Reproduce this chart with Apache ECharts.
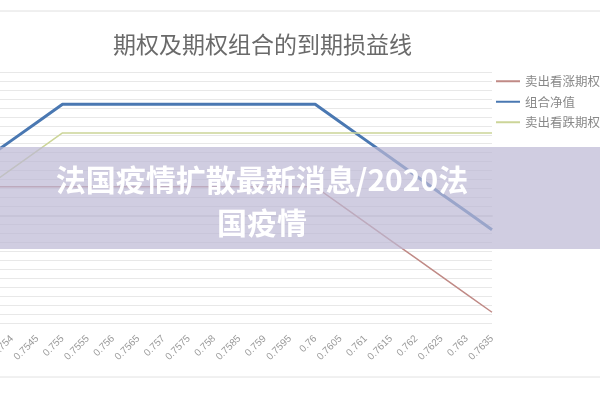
<!DOCTYPE html>
<html>
<head>
<meta charset="utf-8">
<script src="https://cdn.jsdelivr.net/npm/echarts@6/dist/echarts.min.js"></script>
<style>html,body{margin:0;padding:0;background:#fff;}#c{width:600px;height:400px;}</style>
</head>
<body>
<div id="c"></div>
<script>
var categories = ['0.7535','0.754','0.7545','0.755','0.7555','0.756','0.7565','0.757','0.7575','0.758','0.7585','0.759','0.7595','0.76','0.7605','0.761','0.7615','0.762','0.7625','0.763','0.7635'];
var sellCall = [8,8,8,8,8,8,8,8,8,8,8,8,8,8,3,-2,-7,-12,-17,-22,-27];
var sellPut = [8,13,18,23,23,23,23,23,23,23,23,23,23,23,23,23,23,23,23,23,23];
var combo = [16,21,26,31,31,31,31,31,31,31,31,31,31,31,26,21,16,11,6,1,-4];
var seriesNames = ['卖出看涨期权','组合净值','卖出看跌期权'];

var chart = echarts.init(document.getElementById('c'));
chart.setOption({
  backgroundColor: '#fff',
  animation: false,
  title: {
    text: '期权及期权组合的到期损益线',
    left: 108, top: 28,
    textStyle: {fontFamily: 'Noto Sans CJK SC', fontSize: 23, fontWeight: 'normal', color: '#6a6a6a'}
  },
  legend: {
    data: seriesNames,
    orient: 'vertical',
    left: 490, top: 70,
    itemGap: 8, itemWidth: 24, itemHeight: 14,
    itemStyle: {opacity: 0},
    textStyle: {fontFamily: 'Noto Sans CJK SC', fontSize: 12.5, color: '#888'}
  },
  grid: {left: -13.3, right: 108, top: 72, bottom: 77, containLabel: false, outerBoundsMode: 'none'},
  xAxis: {
    type: 'category', data: categories, boundaryGap: false,
    axisLine: {lineStyle: {color: '#e2e2e2', width: 2}},
    axisTick: {show: false},
    axisLabel: {interval: 0, rotate: 45, margin: 14, fontSize: 10, color: '#9a9a9a', fontFamily: 'Liberation Sans'}
  },
  yAxis: {
    type: 'value', min: -30, max: 40, interval: 2.5,
    axisLine: {show: false}, axisTick: {show: false}, axisLabel: {show: false},
    splitLine: {lineStyle: {color: '#e8e8e8', width: 1}}
  },
  series: [
    {name: seriesNames[0], type: 'line', data: sellCall, symbol: 'none', lineStyle: {color: '#c08a86', width: 1.5}, itemStyle: {color: '#c08a86'}},
    {name: seriesNames[1], type: 'line', data: combo, symbol: 'none', lineStyle: {color: '#4a78b2', width: 3}, itemStyle: {color: '#4a78b2'}},
    {name: seriesNames[2], type: 'line', data: sellPut, symbol: 'none', lineStyle: {color: '#ccd598', width: 1.5}, itemStyle: {color: '#ccd598'}}
  ],
  graphic: [
    {type: 'line', shape: {x1: 0, y1: 11, x2: 600, y2: 11}, style: {stroke: '#e0e0e0', lineWidth: 1}},
    {type: 'line', shape: {x1: 0, y1: 377, x2: 600, y2: 377}, style: {stroke: '#e2e2e2', lineWidth: 1}},
    {type: 'rect', shape: {x: 0, y: 147, width: 600, height: 102}, style: {fill: 'rgba(188,184,212,0.7)'}, z: 100},
    {type: 'text', x: 262, y: 180, z: 101, style: {text: '法国疫情扩散最新消息/2020法', fill: '#fff', font: 'bold 30px "Noto Sans CJK SC"', textAlign: 'center', textVerticalAlign: 'middle'}},
    {type: 'text', x: 262, y: 223, z: 101, style: {text: '国疫情', fill: '#fff', font: 'bold 30px "Noto Sans CJK SC"', textAlign: 'center', textVerticalAlign: 'middle'}}
  ]
});
</script>
</body>
</html>
